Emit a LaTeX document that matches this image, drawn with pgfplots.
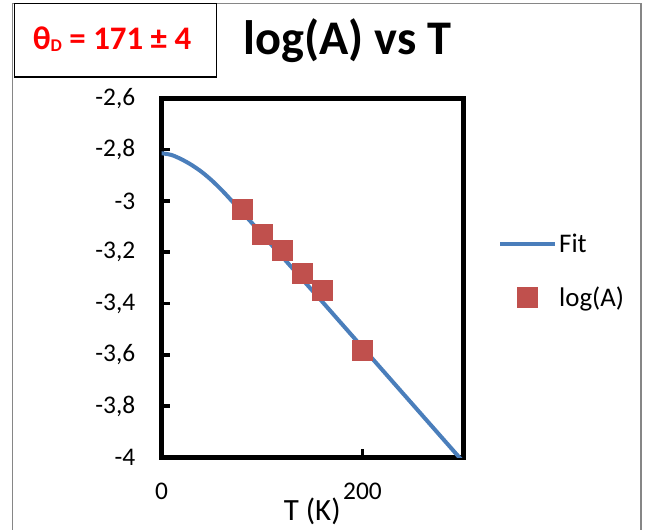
\documentclass[border=0pt]{standalone}
\usepackage{fontspec}
\setmainfont{Carlito}
\usepackage{pgfplots}
\pgfplotsset{compat=1.18}
\definecolor{fitblue}{RGB}{74,126,187}
\definecolor{ptred}{RGB}{192,80,77}
\definecolor{framegray}{RGB}{134,134,134}
\pgfplotsset{
  fitlegend/.style={legend image code/.code={\draw[##1] (0bp,0bp) -- (55bp,0bp);}},
  ptlegend/.style={legend image code/.code={\draw[##1] plot coordinates {(27.5bp,0bp)};}},
}
\begin{document}
\begin{tikzpicture}
\useasboundingbox (0bp,0bp) rectangle (647bp,530bp);
\fill[white] (0bp,0bp) rectangle (647bp,530bp);
\draw[framegray, line width=1.5bp] (12.5bp,-5bp) -- (12.5bp,526.5bp) -- (641bp,526.5bp) -- (641bp,-5bp);
\draw[black, line width=1.5bp] (14.5bp,453bp) rectangle (216.5bp,526.5bp);
\node[anchor=base, text=red, font=\fontsize{33}{33}\selectfont\bfseries] at (112bp,480bp) {θ\raisebox{-2bp}{\fontsize{18}{18}\selectfont D} = 171 ± 4};
\node[anchor=base, font=\fontsize{48.5}{48.5}\selectfont\bfseries] at (347.5bp,475bp) {log(A) vs T};
\begin{axis}[
  at={(161.5bp,72.5bp)}, anchor=south west, scale only axis,
  width=301.5bp, height=359.2bp,
  xmin=0, xmax=300, ymin=-4, ymax=-2.6,
  xtick={0,200},
  ytick={-4,-3.8,-3.6,-3.4,-3.2,-3,-2.8,-2.6},
  xtick pos=bottom, ytick pos=left,
  tick align=inside,
  major tick length=8bp,
  tick style={line width=3.5bp, black},
  axis line style={line width=5bp, black},
  /pgf/number format/.cd, use comma, assume math mode=true, /pgfplots/.cd,
  ticklabel style={font=\fontsize{25.5}{25.5}\selectfont, inner sep=0pt},
  yticklabel style={anchor=east, xshift=-26bp},
  xticklabel style={anchor=center, yshift=-34bp},
  xlabel={T (K)},
  xlabel style={at={(axis description cs:0.5,0)}, anchor=base, yshift=-62.5bp, font=\fontsize{31}{31}\selectfont, inner sep=0pt},
  legend style={at={(1.116,0.628)}, anchor=north west, draw=none, fill=none, inner sep=0pt,
    font=\fontsize{27}{27}\selectfont, row sep=29bp,
    /tikz/every even column/.append style={column sep=4bp}},
  legend cell align=left,
]
\addplot[fitblue, line width=4bp, smooth, fitlegend] coordinates {
(0,-2.814) (10,-2.821) (20,-2.838) (30,-2.860) (40,-2.887) (50,-2.920)
(60,-2.958) (70,-3.000) (80,-3.043) (90,-3.086) (100,-3.130) (120,-3.217)
(140,-3.305) (160,-3.393) (180,-3.482) (200,-3.571) (220,-3.660) (240,-3.749)
(260,-3.838) (280,-3.927) (300,-4.016)};
\addlegendentry{Fit}
\addplot[only marks, mark=square*, mark size=10bp, mark options={fill=ptred, draw=ptred, line width=0.5bp}, ptlegend] coordinates {
(80,-3.034) (100,-3.129) (120,-3.193) (140,-3.283) (160,-3.348) (200,-3.581)};
\addlegendentry{log(A)}
\end{axis}
\end{tikzpicture}
\end{document}
